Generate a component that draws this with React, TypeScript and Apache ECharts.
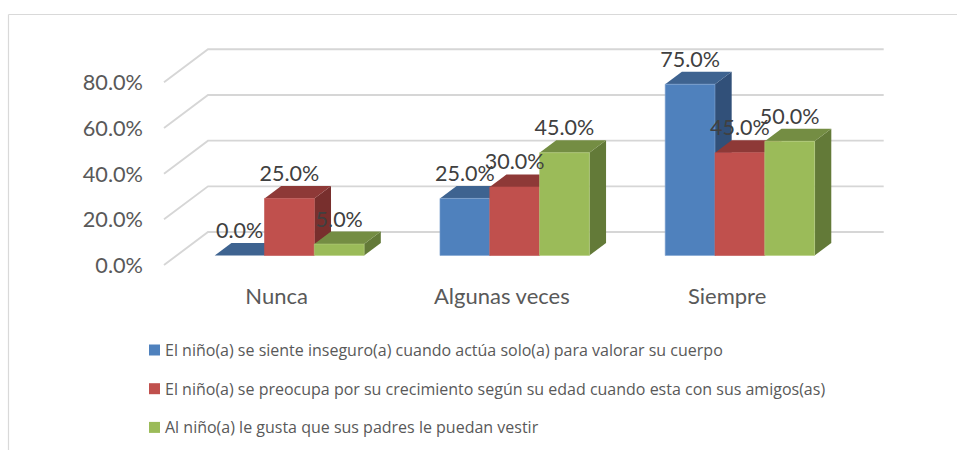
import React, { useEffect, useRef } from "react";
import * as echarts from "echarts";

const categories = ["Nunca", "Algunas veces", "Siempre"];
const seriesNames = [
  "El niño(a) se siente inseguro(a) cuando actúa solo(a) para valorar su cuerpo",
  "El niño(a) se preocupa por su crecimiento según su edad cuando esta con sus amigos(as)",
  "Al niño(a) le gusta que sus padres le puedan vestir",
];
const inseguro = [0, 25, 75];
const preocupa = [25, 30, 45];
const vestir = [5, 45, 50];
const yTicks = [0, 20, 40, 60, 80];

const FONT = "Lato";
const LEGEND_FONT = "Open Sans";
const fronts = ["#4F81BD", "#C0504D", "#9BBB59"];
const tops = ["#3E6390", "#8E3937", "#748D43"];
const sides = ["#315079", "#782F2D", "#637A38"];
const edges = ["#7FA3D0", "#C0504D", "#B5CF7E"];

const WALL_DX = 44;
const WALL_DY = 33;
const BAR_W = 49.8;
const BAR_DX = 16.7;
const BAR_DY = 12.5;
const FLOOR_DX = 12.8;
const FLOOR_DY = 9.5;

const barRender = (idx: number) => (_: any, api: any) => {
  const cat = api.value(0);
  const v = api.value(1);
  const [cx, y1] = api.coord([cat, v]);
  const [, y0base] = api.coord([cat, 0]);
  const left = cx + FLOOR_DX + (idx - 1.5) * BAR_W;
  const right = left + BAR_W;
  const top = y1 - FLOOR_DY;
  const base = y0base - FLOOR_DY;
  const children: any[] = [
    {
      type: "polygon",
      shape: { points: [[right, top], [right + BAR_DX, top - BAR_DY], [right + BAR_DX, base - BAR_DY], [right, base]] },
      style: { fill: sides[idx] },
    },
    {
      type: "polygon",
      shape: { points: [[left, top], [left + BAR_DX, top - BAR_DY], [right + BAR_DX, top - BAR_DY], [right, top]] },
      style: { fill: tops[idx] },
    },
  ];
  if (v > 0) {
    children.push({
      type: "rect",
      shape: { x: left, y: top, width: BAR_W, height: base - top },
      style: { fill: fronts[idx], stroke: edges[idx], lineWidth: 0.6 },
    });
  }
  children.push({
    type: "text",
    x: left + BAR_W / 2,
    y: top - 25.5,
    z2: 100,
    style: {
      text: v.toFixed(1) + "%",
      fill: "#404040",
      fontFamily: FONT,
      fontSize: 21.5,
      align: "center",
      verticalAlign: "middle",
    },
  });
  return { type: "group", children };
};

const wallRender = (params: any, api: any) => {
  const sys = params.coordSys;
  const [, y] = api.coord([0, api.value(1)]);
  return {
    type: "polyline",
    shape: {
      points: [
        [sys.x, y],
        [sys.x + WALL_DX, y - WALL_DY],
        [sys.x + WALL_DX + sys.width, y - WALL_DY],
      ],
    },
    style: { stroke: "#D6D6D6", lineWidth: 1.9, fill: "none" },
  };
};

const barSeries = (idx: number, name: string, values: number[]) => ({
  type: "custom",
  name,
  silent: true,
  clip: false,
  itemStyle: { color: fronts[idx] },
  encode: { x: 0, y: 1 },
  data: values.map((v, i) => [i, v]),
  renderItem: barRender(idx),
});

export default function App() {
  const ref = useRef<HTMLDivElement>(null);
  useEffect(() => {
    const chart = echarts.init(ref.current!, null, { renderer: "svg" });
    chart.setOption({
      animation: false,
      backgroundColor: "#FFFFFF",
      color: fronts,
      grid: { left: 164, width: 675.7, top: 82.3, height: 182.7, containLabel: false },
      xAxis: {
        type: "category",
        data: categories,
        axisLine: { show: false },
        axisTick: { show: false },
        axisLabel: { color: "#595959", fontFamily: FONT, fontSize: 22, margin: 19 },
      },
      yAxis: {
        type: "value",
        min: 0,
        max: 80,
        interval: 20,
        splitLine: { show: false },
        axisLine: { show: false },
        axisTick: { show: false },
        axisLabel: {
          color: "#595959",
          fontFamily: FONT,
          fontSize: 21.7,
          margin: 21,
          formatter: (v: number) => v.toFixed(1) + "%",
        },
      },
      legend: {
        orient: "vertical",
        left: 144,
        top: 336,
        itemWidth: 11,
        itemHeight: 11,
        itemGap: 20.7,
        icon: "rect",
        data: seriesNames,
        textStyle: { color: "#595959", fontFamily: LEGEND_FONT, fontSize: 16, padding: [0, 0, 0, 0], lineHeight: 18 },
        selectedMode: false,
      },
      graphic: [
        { type: "line", shape: { x1: 8.5, y1: 14.5, x2: 957, y2: 14.5 }, style: { stroke: "#D9D9D9", lineWidth: 1.2 }, silent: true },
        { type: "line", shape: { x1: 8.5, y1: 14.5, x2: 8.5, y2: 450 }, style: { stroke: "#D9D9D9", lineWidth: 1.2 }, silent: true },
      ],
      series: [
        {
          type: "custom",
          name: "grid",
          silent: true,
          clip: false,
          encode: { x: 0, y: 1 },
          data: yTicks.map((t) => [0, t]),
          renderItem: wallRender,
        },
        barSeries(0, seriesNames[0], inseguro),
        barSeries(1, seriesNames[1], preocupa),
        barSeries(2, seriesNames[2], vestir),
      ],
    });
    return () => chart.dispose();
  }, []);
  return <div ref={ref} style={{ position: "fixed", left: 0, top: 0, width: 957, height: 450 }} />;
}
